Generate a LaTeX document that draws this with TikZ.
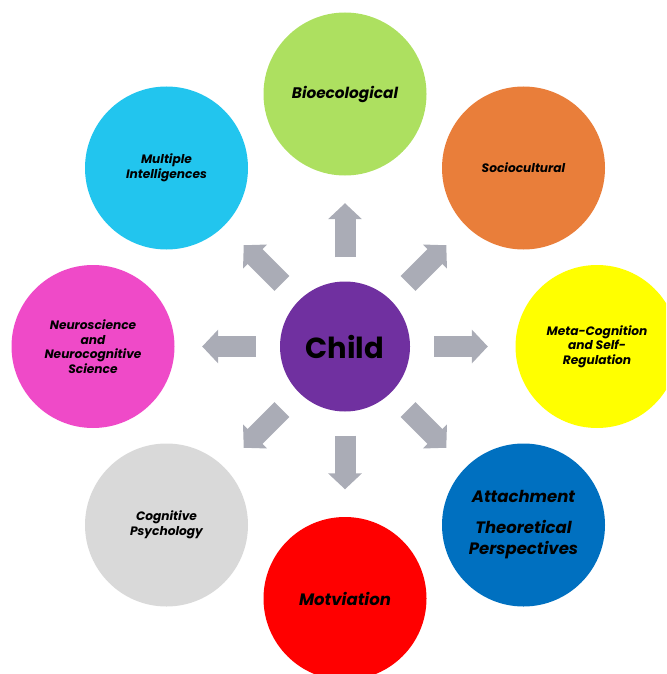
\documentclass[tikz,border=0pt]{standalone}
\usepackage{fontspec}
\setmainfont{Poppins}
\usepackage{tikz}
\usetikzlibrary{arrows.meta, positioning}

\definecolor{childpurple}{RGB}{112,48,160}
\definecolor{bioGreen}{RGB}{173,224,96}
\definecolor{socioOrange}{RGB}{233,126,58}
\definecolor{metaYellow}{RGB}{255,255,0}
\definecolor{attachBlue}{RGB}{0,112,192}
\definecolor{motivRed}{RGB}{255,0,0}
\definecolor{cogGray}{RGB}{217,217,217}
\definecolor{neuroPink}{RGB}{239,74,200}
\definecolor{multiCyan}{RGB}{34,197,238}
\definecolor{flowGray}{RGB}{170,172,182}

\tikzset{
  theory/.style={circle, minimum size=163pt, inner sep=0pt, align=center, text=black,
    font=\bfseries\itshape\fontsize{12.2}{14.6}\selectfont},
  bigtheory/.style={theory, font=\bfseries\itshape\fontsize{16.5}{21}\selectfont},
  flow/.style={draw=flowGray, line width=21pt, shorten <=24pt, shorten >=27.5pt,
    -{Triangle[width=33pt,length=16pt]}}
}

\begin{document}
\begin{tikzpicture}[x=1pt,y=1pt,yscale=-1,on grid]
\useasboundingbox (0,0) rectangle (666,674);
\clip (0,0) rectangle (666,674);

% centre
\node [circle, fill=childpurple, minimum size=130pt, inner sep=0pt,
  font=\bfseries\fontsize{29}{32}\selectfont] (child) at (345,346.5) {Child};

% surrounding theories
\node [bigtheory, fill=bioGreen, above=252.5pt of child, font=\bfseries\itshape\fontsize{15.3}{18}\selectfont] (bio) {Bioecological};
\node [theory, fill=socioOrange, above right=178.5pt and 178.5pt of child] (socio) {Sociocultural};
\node [theory, fill=metaYellow, right=252pt of child] (meta) {Meta-Cognition\\and Self-\\Regulation};
\node [bigtheory, fill=attachBlue, below right=178.5pt and 178.5pt of child] (attach) {Attachment\\[10pt]Theoretical\\Perspectives};
\node [bigtheory, fill=motivRed, below=252pt of child] (motiv) {Motviation};
\node [theory, fill=cogGray, below left=178.5pt and 178.5pt of child] (cog) {Cognitive\\Psychology};
\node [theory, fill=neuroPink, left=252pt of child] (neuro) {Neuroscience\\and\\Neurocognitive\\Science};
\node [theory, fill=multiCyan, above left=178.5pt and 178.5pt of child] (multi) {Multiple\\Intelligences};

% arrows out of the centre
\foreach \t in {bio,socio,meta,attach,motiv,cog,neuro,multi}
  \draw [flow] (child) -- (\t);

\end{tikzpicture}
\end{document}
